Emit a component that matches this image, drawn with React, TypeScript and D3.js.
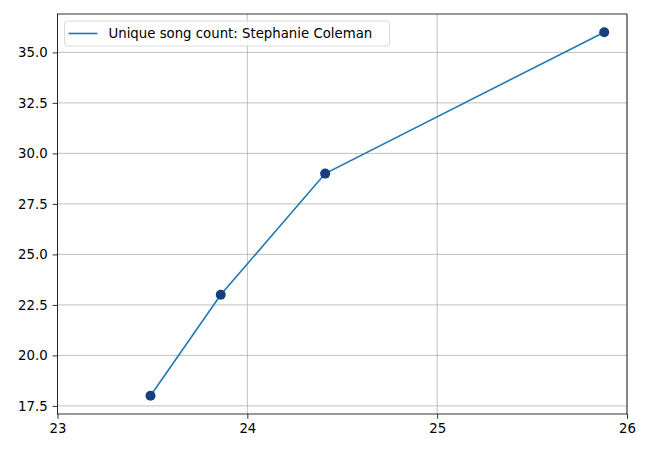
import React, { useEffect, useRef } from 'react';
import * as d3 from 'd3';

const ages = [23.49, 23.86, 24.41, 25.88];
const songCounts = [18, 23, 29, 36];
const xTicks = [23, 24, 25, 26];
const yTicks = [17.5, 20.0, 22.5, 25.0, 27.5, 30.0, 32.5, 35.0];
const seriesLabel = 'Unique song count: Stephanie Coleman';

const App = () => {
  const ref = useRef<SVGSVGElement>(null);

  useEffect(() => {
    const svg = d3.select(ref.current);
    svg.selectAll('*').remove();

    const margin = { top: 14, right: 23, bottom: 36, left: 57.5 };
    const width = 650 - margin.left - margin.right;
    const height = 450 - margin.top - margin.bottom;

    const g = svg.append('g').attr('transform', `translate(${margin.left},${margin.top})`);

    const x = d3.scaleLinear().domain([23, 26]).range([0, width]);
    const y = d3.scaleLinear().domain([17.1, 36.9]).range([height, 0]);

    // grid
    g.append('g')
      .selectAll('line')
      .data(xTicks)
      .enter().append('line')
      .attr('x1', d => x(d)).attr('x2', d => x(d))
      .attr('y1', 0).attr('y2', height)
      .attr('stroke', '#b0b0b0').attr('stroke-width', 0.8);
    g.append('g')
      .selectAll('line')
      .data(yTicks)
      .enter().append('line')
      .attr('x1', 0).attr('x2', width)
      .attr('y1', d => y(d)).attr('y2', d => y(d))
      .attr('stroke', '#b0b0b0').attr('stroke-width', 0.8);

    const font = 'DejaVu Sans, sans-serif';

    const xAxis = g.append('g')
      .attr('transform', `translate(0,${height})`)
      .call(d3.axisBottom(x).tickValues(xTicks).tickFormat(d3.format('d')).tickSize(4.9).tickPadding(4.9));
    const yAxis = g.append('g')
      .call(d3.axisLeft(y).tickValues(yTicks).tickFormat(d3.format('.1f')).tickSize(4.9).tickPadding(4.9));
    [xAxis, yAxis].forEach(a => {
      a.select('.domain').remove();
      a.selectAll('line').attr('stroke', '#000').attr('stroke-width', 0.8);
      a.selectAll('text').attr('font-family', font).attr('font-size', 13.3).attr('fill', '#000');
    });

    // frame
    g.append('rect')
      .attr('x', 0).attr('y', 0).attr('width', width).attr('height', height)
      .attr('fill', 'none').attr('stroke', '#000').attr('stroke-width', 0.8);

    const line = d3.line<number>()
      .x((_, i) => x(ages[i]))
      .y(d => y(d));

    g.append('path')
      .datum(songCounts)
      .attr('d', line)
      .attr('fill', 'none')
      .attr('stroke', '#1f77b4')
      .attr('stroke-width', 1.6);

    g.selectAll('.dot')
      .data(songCounts)
      .enter().append('circle')
      .attr('class', 'dot')
      .attr('cx', (_, i) => x(ages[i]))
      .attr('cy', d => y(d))
      .attr('r', 5)
      .attr('fill', '#173f80');

    // legend
    const leg = g.append('g').attr('transform', 'translate(7,7)');
    leg.append('rect')
      .attr('x', 0).attr('y', 0).attr('width', 325).attr('height', 25)
      .attr('rx', 3)
      .attr('fill', '#fff').attr('fill-opacity', 0.8)
      .attr('stroke', '#d9d9d9').attr('stroke-width', 1);
    leg.append('line')
      .attr('x1', 4).attr('x2', 33).attr('y1', 12.5).attr('y2', 12.5)
      .attr('stroke', '#1f77b4').attr('stroke-width', 1.6);
    leg.append('text')
      .attr('x', 44).attr('y', 17)
      .attr('font-family', font).attr('font-size', 13.3)
      .attr('fill', '#000')
      .text(seriesLabel);
  }, []);

  return <svg ref={ref} width={650} height={450} style={{ position: 'absolute', left: 0, top: 0 }} />;
};

export default App;
